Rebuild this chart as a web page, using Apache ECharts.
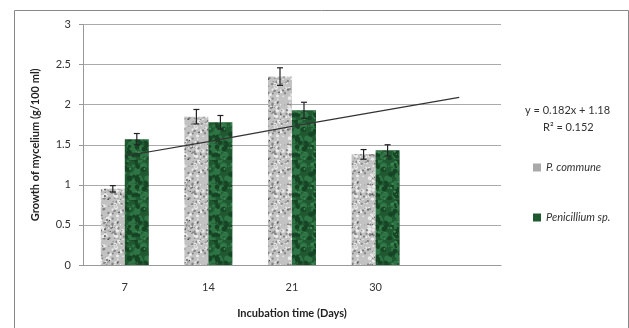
<!DOCTYPE html>
<html>
<head>
<meta charset="utf-8">
<script src="https://cdn.jsdelivr.net/npm/echarts@6/dist/echarts.min.js"></script>
<style>
  html, body { margin: 0; padding: 0; background: #fff; }
  #chart { width: 629px; height: 328px; }
</style>
</head>
<body>
<div id="chart"></div>
<script>
// incubation days (last slot is empty, trendline runs into it)
const categories = ["7", "14", "21", "30", ""];
const communeData = [0.95, 1.85, 2.35, 1.38];
const communeErr = [0.04, 0.09, 0.11, 0.06];
const penicilliumData = [1.57, 1.78, 1.93, 1.43];
const penicilliumErr = [0.07, 0.085, 0.1, 0.07];
// linear trendline y = 0.182x + 1.18, read at each slot
const trendData = [1.36, 1.54, 1.73, 1.91, 2.09];
const yTicks = [0, 0.5, 1, 1.5, 2, 2.5, 3];

const font = "Lato, 'Open Sans', sans-serif";

/** speckled texture for the bars */
function makeTexture(base, spots, size) {
  const c = document.createElement("canvas");
  c.width = size;
  c.height = size;
  const ctx = c.getContext("2d");
  ctx.fillStyle = base;
  ctx.fillRect(0, 0, size, size);
  let seed = 7;
  const rnd = () => {
    seed = (seed * 16807) % 2147483647;
    return seed / 2147483647;
  };
  spots.forEach(s => {
    ctx.fillStyle = s.color;
    for (let i = 0; i < s.count; i++) {
      const x = rnd() * size;
      const y = rnd() * size;
      const r = s.r * (0.5 + rnd());
      ctx.beginPath();
      ctx.arc(x, y, r, 0, Math.PI * 2);
      ctx.fill();
    }
  });
  return c;
}

const grayTex = makeTexture("#c2c2c2", [
  { color: "#ebebeb", count: 90, r: 1.3 },
  { color: "#858585", count: 80, r: 0.9 },
  { color: "#555", count: 35, r: 0.7 }
], 40);
const greenTex = makeTexture("#1f5831", [
  { color: "#2f7444", count: 60, r: 2.2 },
  { color: "#164424", count: 50, r: 1.8 },
  { color: "#3d8752", count: 25, r: 1 }
], 40);

const barWidth = 24;

function errorSeries(values, errs, offset) {
  return {
    type: "custom",
    silent: true,
    z: 5,
    data: values.map((v, i) => [i, v, errs[i]]),
    renderItem(params, api) {
      const i = api.value(0);
      const v = api.value(1);
      const e = api.value(2);
      const top = api.coord([i, v + e]);
      const bot = api.coord([i, v - e]);
      const x = top[0] + offset;
      const hw = 3;
      const style = { stroke: "#222", lineWidth: 1.2 };
      return {
        type: "group",
        children: [
          { type: "line", shape: { x1: x, y1: top[1], x2: x, y2: bot[1] }, style },
          { type: "line", shape: { x1: x - hw, y1: top[1], x2: x + hw, y2: top[1] }, style },
          { type: "line", shape: { x1: x - hw, y1: bot[1], x2: x + hw, y2: bot[1] }, style }
        ]
      };
    }
  };
}

const chart = echarts.init(document.getElementById("chart"));
chart.setOption({
  animation: false,
  textStyle: { fontFamily: font },
  grid: { left: 83, right: 128, top: 24.5, bottom: 63 },
  legend: {
    orient: "vertical",
    left: 528,
    top: 157,
    itemGap: 39,
    itemWidth: 8,
    itemHeight: 8,
    icon: "rect",
    data: [
      { name: "P. commune", itemStyle: { color: "#a9a9a9" } },
      { name: "Penicillium sp.", itemStyle: { color: "#1f5831" } }
    ],
    textStyle: { fontFamily: font, fontSize: 11, fontStyle: "italic", color: "#333" }
  },
  xAxis: {
    type: "category",
    data: categories,
    name: "Incubation time (Days)",
    nameLocation: "middle",
    nameGap: 43,
    nameTextStyle: { fontWeight: "bold", fontSize: 11, color: "#222" },
    axisLine: { lineStyle: { color: "#999" } },
    axisTick: { show: false },
    axisLabel: { fontSize: 11, color: "#333", margin: 17 }
  },
  yAxis: {
    type: "value",
    min: 0,
    max: 3,
    interval: 0.5,
    name: "Growth of mycelium (g/100 ml)",
    nameLocation: "middle",
    nameGap: 42,
    nameTextStyle: { fontWeight: "bold", fontSize: 11, color: "#222" },
    axisLine: { show: true, lineStyle: { color: "#999" } },
    axisTick: { show: true, length: 4, lineStyle: { color: "#999" } },
    axisLabel: {
      fontSize: 11,
      color: "#333",
      margin: 12,
      formatter: v => (yTicks.includes(v) ? String(v) : "")
    },
    splitLine: { lineStyle: { color: "#aaa" } }
  },
  series: [
    {
      name: "P. commune",
      type: "bar",
      barWidth,
      barGap: 0,
      itemStyle: { color: { image: grayTex, repeat: "repeat" } },
      data: communeData
    },
    {
      name: "Penicillium sp.",
      type: "bar",
      barWidth,
      itemStyle: { color: { image: greenTex, repeat: "repeat" } },
      data: penicilliumData
    },
    errorSeries(communeData, communeErr, -barWidth / 2),
    errorSeries(penicilliumData, penicilliumErr, barWidth / 2),
    {
      name: "Trend",
      type: "line",
      symbol: "none",
      z: 6,
      lineStyle: { color: "#333", width: 1.2 },
      data: trendData
    }
  ],
  graphic: [
    {
      type: "rect",
      shape: { x: 14.5, y: 10.5, width: 614, height: 330 },
      style: { fill: null, stroke: "#888", lineWidth: 1 },
      silent: true
    },
    {
      type: "text",
      left: 525,
      top: 105,
      style: {
        text: "y = 0.182x + 1.18",
        font: "11px " + font,
        fill: "#333"
      }
    },
    {
      type: "text",
      left: 543,
      top: 122,
      style: {
        text: "R\u00B2 = 0.152",
        font: "11px " + font,
        fill: "#333"
      }
    }
  ]
});
</script>
</body>
</html>
